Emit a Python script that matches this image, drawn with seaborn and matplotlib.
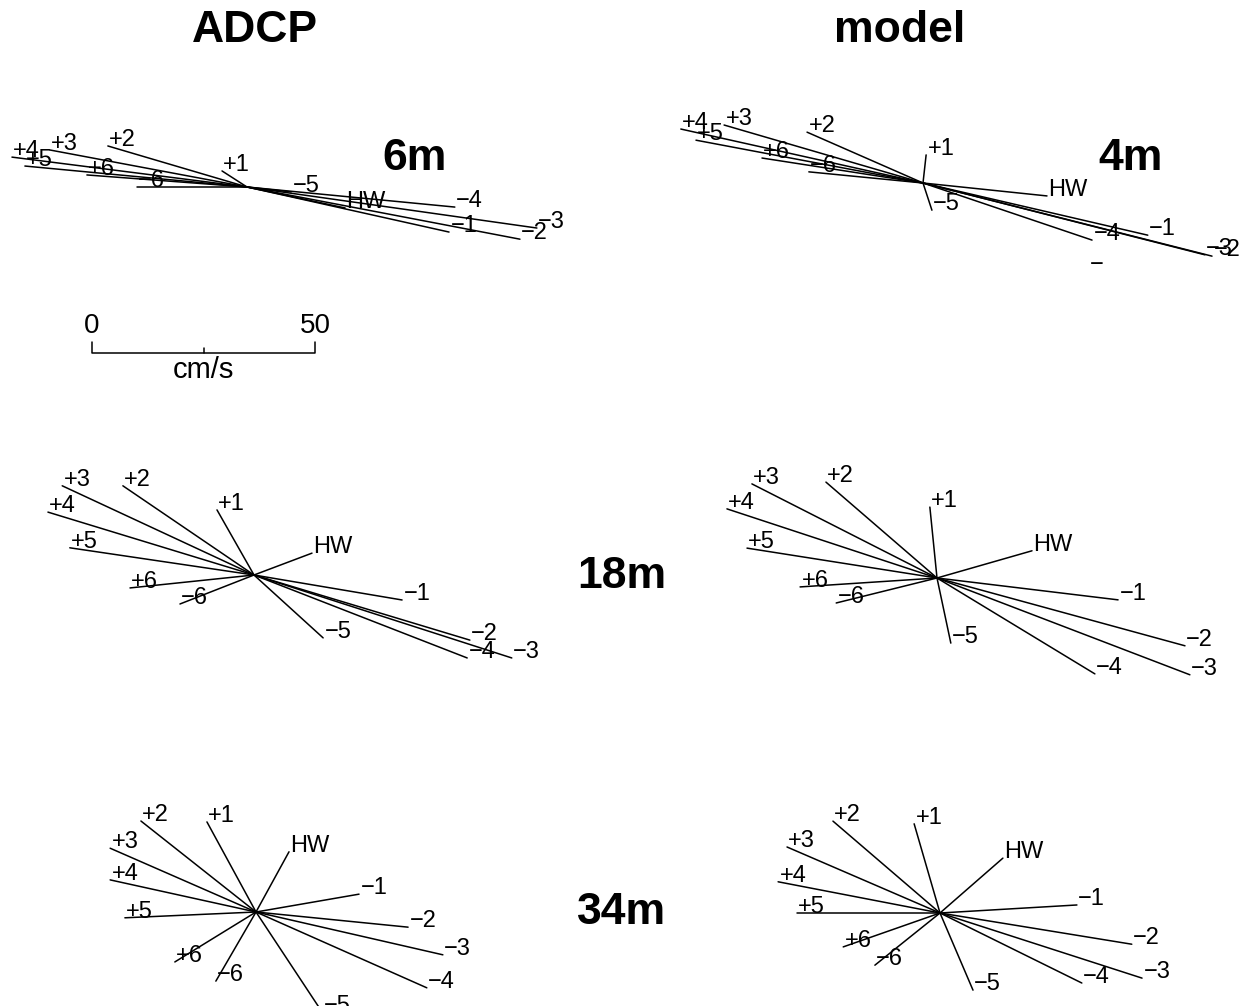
import numpy as np
import pandas as pd
import matplotlib
matplotlib.use("Agg")
import matplotlib.pyplot as plt
import seaborn as sns

# tidal hour labels of each current vector
labels = ["HW", "-1", "-2", "-3", "-4", "-5", "-6", "+1", "+2", "+3", "+4", "+5", "+6"]

# east (u) and north (v) velocity, cm/s
adcp_6m_u = [22.0, 45.3, 61.2, 65.0, 46.6, 9.9, -24.7, -5.6, -31.2, -44.2, -52.7, -49.8, -35.9]
adcp_6m_v = [-4.7, -10.1, -11.7, -9.2, -4.5, -1.1, 0.0, 3.6, 9.2, 8.3, 6.7, 4.7, 2.7]

model_4m_u = [27.8, 50.4, 64.8, 63.2, 37.9, 2.0, -25.6, 0.7, -26.0, -44.6, -54.3, -50.9, -36.1]
model_4m_v = [-2.9, -11.7, -16.4, -16.1, -12.8, -6.1, 2.5, 6.3, 11.4, 13.0, 12.1, 9.6, 5.6]

adcp_18m_u = [13.0, 33.2, 48.4, 57.8, 47.8, 15.5, -16.6, -8.3, -29.4, -43.0, -46.2, -41.3, -27.8]
adcp_18m_v = [4.9, -5.6, -14.6, -18.6, -18.6, -14.1, -6.5, 14.6, 20.0, 20.0, 14.1, 6.1, -2.9]

model_18m_u = [21.3, 40.6, 55.6, 56.7, 35.4, 3.1, -22.6, -1.6, -24.9, -41.5, -47.1, -42.6, -30.7]
model_18m_v = [6.1, -4.9, -15.2, -21.7, -21.5, -14.6, -5.6, 15.9, 21.5, 21.1, 15.5, 6.7, -2.0]

adcp_34m_u = [7.4, 23.1, 34.1, 41.9, 38.3, 14.8, -9.0, -11.0, -25.8, -32.7, -32.7, -29.4, -18.2]
adcp_34m_v = [13.5, 4.0, -3.4, -9.6, -17.0, -22.4, -15.5, 20.2, 20.4, 14.3, 7.2, -1.3, -11.2]

model_34m_u = [14.1, 30.7, 43.0, 45.3, 31.8, 7.4, -14.6, -5.8, -24.0, -34.3, -36.3, -32.1, -21.7]
model_34m_v = [12.3, 1.8, -7.0, -14.6, -15.7, -17.3, -11.7, 20.0, 20.6, 14.8, 7.0, 0.0, -7.6]

panels = {
    "adcp_6m": (adcp_6m_u, adcp_6m_v),
    "model_4m": (model_4m_u, model_4m_v),
    "adcp_18m": (adcp_18m_u, adcp_18m_v),
    "model_18m": (model_18m_u, model_18m_v),
    "adcp_34m": (adcp_34m_u, adcp_34m_v),
    "model_34m": (model_34m_u, model_34m_v),
}

# layout: figure pixels, converted to cm/s with the plot scale
W, H = 1252, 1006
px_per_cms = 4.46
origins_px = {
    "adcp_6m": (247, 187), "model_4m": (923, 183),
    "adcp_18m": (254, 575), "model_18m": (937, 578),
    "adcp_34m": (256, 912), "model_34m": (940, 913),
}


def to_cms(px, py):
    return px / px_per_cms, (H - py) / px_per_cms


rows = []
for name, (u, v) in panels.items():
    x0, y0 = to_cms(*origins_px[name])
    for lab, uu, vv in zip(labels, u, v):
        seg = name + lab
        rows.append(dict(seg=seg, panel=name, label=lab, x=x0, y=y0, tip=False))
        rows.append(dict(seg=seg, panel=name, label=lab, x=x0 + uu, y=y0 + vv, tip=True))
df = pd.DataFrame(rows)

sns.set_theme(style="white")
plt.rcParams["font.family"] = ["Liberation Sans", "DejaVu Sans"]
plt.rcParams["text.color"] = "black"

fig = plt.figure(figsize=(W / 100, H / 100), dpi=100)
ax = fig.add_axes([0, 0, 1, 1])
sns.lineplot(data=df, x="x", y="y", units="seg", estimator=None, sort=False,
             color="black", lw=1.1, ax=ax, legend=False)

tips = df[df.tip]
for _, r in tips.iterrows():
    ax.text(r.x + 0.3, r.y, r.label.replace("-", "\u2212"), fontsize=17,
            ha="left", va="baseline", color="black")

# stray minus sign near the 4m model vectors
sx, sy = to_cms(1090, 271)
ax.text(sx, sy, "\u2212", fontsize=17, ha="left", va="baseline", color="black")

# scale bar 0-50 cm/s
bx, by = to_cms(92, 353)
ax.plot([bx, bx, bx + 50, bx + 50], [by + 2.5, by, by, by + 2.5], color="black", lw=1.1)
ax.plot([bx + 25, bx + 25], [by, by + 1.2], color="black", lw=1.1)
ax.text(bx, by + 3.2, "0", fontsize=20, ha="center", va="bottom", color="black")
ax.text(bx + 50, by + 3.2, "50", fontsize=20, ha="center", va="bottom", color="black")
ax.text(bx + 25, by - 0.6, "cm/s", fontsize=21, ha="center", va="top", color="black")

# column titles and depth labels
for txt, (px, py) in {"ADCP": (255, 30), "model": (900, 30)}.items():
    ax.text(*to_cms(px, py), txt, fontsize=32, fontweight="bold", ha="center",
            va="center", color="black")
for txt, (px, py) in {"6m": (415, 158), "4m": (1131, 158),
                      "18m": (622, 576), "34m": (622, 912)}.items():
    ax.text(*to_cms(px, py), txt, fontsize=32, fontweight="bold", ha="center",
            va="center", color="black")

ax.set_xlim(0, W / px_per_cms)
ax.set_ylim(0, H / px_per_cms)
ax.set_aspect("auto")
ax.axis("off")

fig.savefig("out.png", dpi=100, facecolor="white")
